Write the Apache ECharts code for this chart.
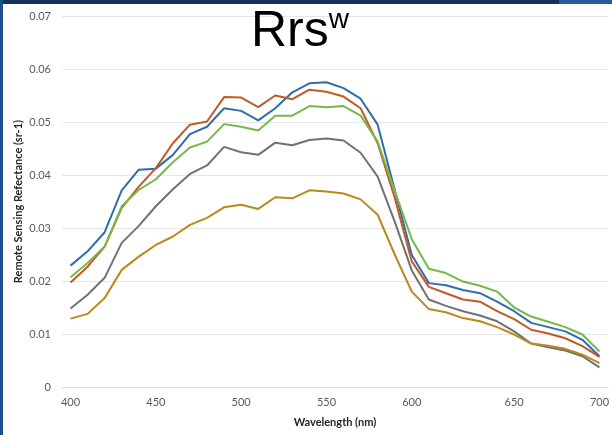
<!DOCTYPE html>
<html>
<head>
<meta charset="utf-8">
<title>Rrs w spectra</title>
<script src="https://cdn.jsdelivr.net/npm/echarts@6/dist/echarts.min.js"></script>
<style>
  html, body { margin: 0; padding: 0; background: #ffffff; }
  #chart { width: 612px; height: 435px; }
</style>
</head>
<body>
<div id="chart"></div>
<script>
// Spectral bands (nm), one category per sample band
const wavelengths = [
  400, 410, 420, 430, 440, 450, 460, 470, 480, 490,
  500, 510, 520, 530, 540, 550, 560, 570, 580, 590,
  600, 610, 620, 630, 640, 645, 650, 660, 670, 680,
  690, 700
];

// Bands that carry an axis label
const xTickLabels = ['400', '450', '500', '550', '600', '650', '700'];

// Remote sensing reflectance (sr-1) for each spectrum
const rrsBlue = [
  0.0229, 0.0256, 0.0292, 0.0371, 0.0410, 0.0412, 0.0438, 0.0477, 0.0491, 0.0526,
  0.0521, 0.0503, 0.0526, 0.0556, 0.0573, 0.0575, 0.0564, 0.0544, 0.0495, 0.0372,
  0.0249, 0.0196, 0.0192, 0.0183, 0.0177, 0.0161, 0.0143, 0.0121, 0.0113, 0.0105,
  0.0089, 0.0058
];
const rrsOrange = [
  0.0197, 0.0227, 0.0265, 0.0338, 0.0378, 0.0413, 0.0460, 0.0495, 0.0501, 0.0547,
  0.0546, 0.0528, 0.0550, 0.0543, 0.0561, 0.0557, 0.0548, 0.0526, 0.0460, 0.0357,
  0.0237, 0.0189, 0.0177, 0.0165, 0.0161, 0.0143, 0.0128, 0.0108, 0.0101, 0.0092,
  0.0077, 0.0057
];
const rrsGreen = [
  0.0207, 0.0234, 0.0265, 0.0341, 0.0372, 0.0392, 0.0424, 0.0452, 0.0463, 0.0496,
  0.0491, 0.0484, 0.0512, 0.0512, 0.0530, 0.0528, 0.0530, 0.0512, 0.0463, 0.0370,
  0.0279, 0.0223, 0.0215, 0.0199, 0.0191, 0.0180, 0.0150, 0.0133, 0.0123, 0.0113,
  0.0099, 0.0067
];
const rrsGray = [
  0.0148, 0.0174, 0.0206, 0.0272, 0.0304, 0.0341, 0.0373, 0.0402, 0.0418, 0.0453,
  0.0443, 0.0438, 0.0461, 0.0456, 0.0466, 0.0469, 0.0465, 0.0442, 0.0397, 0.0312,
  0.0220, 0.0165, 0.0153, 0.0143, 0.0135, 0.0124, 0.0105, 0.0082, 0.0075, 0.0069,
  0.0058, 0.0037
];
const rrsGold = [
  0.0129, 0.0138, 0.0168, 0.0221, 0.0246, 0.0268, 0.0284, 0.0306, 0.0319, 0.0339,
  0.0344, 0.0336, 0.0358, 0.0356, 0.0371, 0.0369, 0.0365, 0.0354, 0.0325, 0.0250,
  0.0180, 0.0147, 0.0141, 0.0130, 0.0124, 0.0113, 0.0099, 0.0082, 0.0078, 0.0072,
  0.0061, 0.0045
];

const spectra = [
  { name: 'Spectrum 1', data: rrsBlue,   color: '#2f6eab' },
  { name: 'Spectrum 2', data: rrsOrange, color: '#c05a26' },
  { name: 'Spectrum 3', data: rrsGreen,  color: '#76b84a' },
  { name: 'Spectrum 4', data: rrsGray,   color: '#717171' },
  { name: 'Spectrum 5', data: rrsGold,   color: '#b8891b' }
];

const chart = echarts.init(document.getElementById('chart'), null, { renderer: 'canvas' });

const labelFont = 'Lato, "Liberation Sans", sans-serif';
const titleFont = '"Liberation Sans", Arial, sans-serif';

chart.setOption({
  animation: false,
  backgroundColor: '#ffffff',
  title: {
    text: '{base|Rrs}{sup|w}',
    left: 251,
    top: 6,
    padding: 0,
    textStyle: {
      fontWeight: 'normal',
      rich: {
        base: { fontFamily: titleFont, fontWeight: 'normal', fontSize: 50, color: '#000000', lineHeight: 52 },
        sup:  { fontFamily: titleFont, fontWeight: 'normal', fontSize: 28, color: '#000000', lineHeight: 52, verticalAlign: 'top' }
      }
    }
  },
  graphic: [
    // slide frame: dark band along the top and a blue strip down the left edge
    { type: 'rect', silent: true, z: 100, shape: { x: 0, y: 0, width: 612, height: 4 }, style: { fill: '#15335a' } },
    { type: 'rect', silent: true, z: 101, shape: { x: 559, y: 0, width: 53, height: 4 }, style: { fill: '#2b5d9a' } },
    { type: 'rect', silent: true, z: 100, shape: { x: 0, y: 0, width: 3, height: 435 }, style: { fill: '#1b4f8e' } }
  ],
  grid: { left: 62, right: 2, top: 16, bottom: 48, containLabel: false },
  xAxis: {
    type: 'category',
    data: wavelengths.map(String),
    boundaryGap: true,
    name: 'Wavelength (nm)',
    nameLocation: 'middle',
    nameGap: 30,
    nameTextStyle: { fontFamily: labelFont, fontWeight: 'bold', fontSize: 11, color: '#262626' },
    axisLine: { lineStyle: { color: '#d9d9d9', width: 1 } },
    axisTick: { show: false },
    axisLabel: {
      interval: (index, value) => xTickLabels.includes(value),
      margin: 10,
      fontFamily: labelFont,
      fontSize: 11,
      color: '#595959'
    },
    splitLine: { show: false }
  },
  yAxis: {
    type: 'value',
    min: 0,
    max: 0.07,
    interval: 0.01,
    name: 'Remote Sensing Refectance (sr-1)',
    nameLocation: 'middle',
    nameGap: 38,
    nameMoveOverlap: false,
    nameTextStyle: { fontFamily: labelFont, fontWeight: 'bold', fontSize: 11, color: '#262626' },
    axisLine: { show: false },
    axisTick: { show: false },
    axisLabel: {
      margin: 11,
      fontFamily: labelFont,
      fontSize: 11,
      color: '#595959',
      formatter: v => (v === 0 ? '0' : v.toFixed(2))
    },
    splitLine: { lineStyle: { color: '#e6e6e6', width: 1 } }
  },
  series: spectra.map(s => ({
    name: s.name,
    type: 'line',
    data: s.data,
    symbol: 'none',
    smooth: false,
    lineStyle: { color: s.color, width: 2 },
    itemStyle: { color: s.color }
  }))
});
</script>
</body>
</html>
